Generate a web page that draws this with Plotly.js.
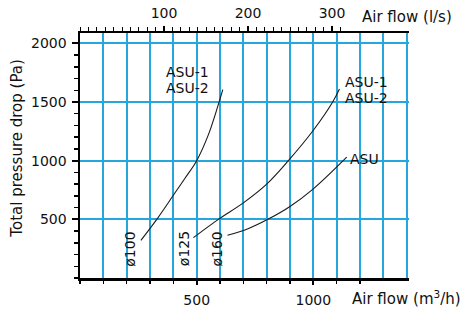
<!DOCTYPE html>
<html>
<head>
<meta charset="utf-8">
<script src="https://cdn.plot.ly/plotly-3.0.1.min.js"></script>
<style>html,body{margin:0;padding:0;background:#fff;}#chart{width:462px;height:309px;}</style>
</head>
<body>
<div id="chart"></div>
<script>
// Air flow (m3/h) and total pressure drop (Pa)
const flow100 = [261, 329, 400, 450, 500, 550, 590, 612];
const dp100   = [321, 500, 705, 850, 1000, 1220, 1460, 1605];
const flow125 = [486, 593, 700, 800, 893, 1000, 1083, 1112];
const dp125   = [344, 500, 640, 800, 1000, 1259, 1500, 1610];
const flow160 = [632, 720, 805, 900, 1000, 1143];
const dp160   = [364, 420, 500, 610, 760, 1030];

const ductLabels = ['ø100', 'ø125', 'ø160'];
const unitLabels = ['ASU-1', 'ASU-2', 'ASU'];

const bottomTickVals = [0,100,200,300,400,500,600,700,800,900,1000,1100,1200];
const bottomLabelVals = [500, 1000];
const topLabelVals = [100, 200, 300];
const topMinorVals = [0,10,20,30,40,50,60,70,80,90,100,110,120,130,140,150,160,170,180,190,200,210,220,230,240,250,260,270,280,290,300,310];
const yLabelVals = [500, 1000, 1500, 2000];

const M3H_PER_LS = 3.6;
const X_MAX = 1410;
const Y_MAX = 2088;

const FONT = 'DejaVu Sans, sans-serif';
const GRID = '#25a7de';
const curve = {color: '#1a1a1a', width: 1.1, shape: 'spline', smoothing: 1};

const data = [
  {x: flow100, y: dp100, mode: 'lines', line: curve, hoverinfo: 'skip', showlegend: false},
  {x: flow125, y: dp125, mode: 'lines', line: curve, hoverinfo: 'skip', showlegend: false},
  {x: flow160, y: dp160, mode: 'lines', line: curve, hoverinfo: 'skip', showlegend: false},
  {x: [], y: [], xaxis: 'x2', yaxis: 'y', showlegend: false},
  {x: [], y: [], xaxis: 'x3', yaxis: 'y', showlegend: false}
];

const tickFont = {family: FONT, size: 14, color: '#111'};

const layout = {
  width: 462, height: 309,
  margin: {l: 80, r: 53, t: 33, b: 31, pad: 0},
  paper_bgcolor: '#fff', plot_bgcolor: '#fff',
  font: {family: FONT, size: 14, color: '#111'},
  showlegend: false,
  xaxis: {
    range: [0, X_MAX], tickmode: 'linear', tick0: 0, dtick: 100,
    showgrid: true, gridcolor: GRID, gridwidth: 1.8,
    showticklabels: false, ticks: '', zeroline: false,
    showline: true, linecolor: '#000', linewidth: 2.5, mirror: false
  },
  xaxis3: {
    overlaying: 'x', anchor: 'y', side: 'bottom', range: [0, X_MAX],
    tickmode: 'array', tickvals: bottomLabelVals, ticktext: bottomLabelVals.map(String),
    ticks: 'outside', ticklen: 6, tickwidth: 2, tickcolor: '#000',
    minor: {tickmode: 'array', tickvals: bottomTickVals, ticks: 'outside', ticklen: 5, tickwidth: 1.5, tickcolor: '#000', showgrid: false},
    showgrid: false, zeroline: false, showline: false,
    tickfont: tickFont, ticklabelstandoff: 3
  },
  xaxis2: {
    overlaying: 'x', anchor: 'y', side: 'top', range: [0, X_MAX / M3H_PER_LS],
    tickmode: 'array', tickvals: topLabelVals, ticktext: topLabelVals.map(String),
    ticks: 'outside', ticklen: 5, tickwidth: 2, tickcolor: '#000',
    minor: {tickmode: 'array', tickvals: topMinorVals, ticks: 'outside', ticklen: 4, tickwidth: 1, tickcolor: '#000', showgrid: false},
    showgrid: false, zeroline: false,
    showline: true, linecolor: '#000', linewidth: 2.5,
    tickfont: tickFont, ticklabelstandoff: 2
  },
  yaxis: {
    range: [0, Y_MAX], tickmode: 'array', tickvals: yLabelVals, ticktext: yLabelVals.map(String),
    ticks: 'outside', ticklen: 6, tickwidth: 2, tickcolor: '#000',
    minor: {tickmode: 'linear', tick0: 0, dtick: 100, ticks: 'outside', ticklen: 4, tickwidth: 1.5, tickcolor: '#000', showgrid: false},
    showgrid: true, gridcolor: GRID, gridwidth: 1.8, zeroline: false,
    showline: true, linecolor: '#000', linewidth: 2.5,
    tickfont: tickFont, ticklabelstandoff: 2
  },
  annotations: [
    {text: 'Total pressure drop (Pa)', textangle: -90, xref: 'paper', yref: 'paper', x: -0.19, y: 0.53,
     xanchor: 'center', yanchor: 'middle', showarrow: false, font: {family: FONT, size: 15, color: '#111'}},
    {text: 'Air flow (l/s)', xref: 'paper', yref: 'paper', x: 0.852, y: 1.065,
     xanchor: 'left', yanchor: 'middle', showarrow: false, font: {family: FONT, size: 15, color: '#111'}},
    {text: 'Air flow (m<sup>3</sup>/h)', xref: 'paper', yref: 'paper', x: 0.822, y: -0.08,
     xanchor: 'left', yanchor: 'middle', showarrow: false, font: {family: FONT, size: 15, color: '#111'}},

    {text: ductLabels[0], textangle: -90, x: 214, y: 249, xanchor: 'center', yanchor: 'middle', showarrow: false, font: tickFont},
    {text: ductLabels[1], textangle: -90, x: 443, y: 249, xanchor: 'center', yanchor: 'middle', showarrow: false, font: tickFont},
    {text: ductLabels[2], textangle: -90, x: 586, y: 249, xanchor: 'center', yanchor: 'middle', showarrow: false, font: tickFont},

    {text: unitLabels[0], x: 362, y: 1753, xanchor: 'left', yanchor: 'middle', showarrow: false, font: tickFont},
    {text: unitLabels[1], x: 362, y: 1621, xanchor: 'left', yanchor: 'middle', showarrow: false, font: tickFont},
    {text: unitLabels[0], x: 1125, y: 1668, xanchor: 'left', yanchor: 'middle', showarrow: false, font: tickFont},
    {text: unitLabels[1], x: 1125, y: 1535, xanchor: 'left', yanchor: 'middle', showarrow: false, font: tickFont},
    {text: unitLabels[2], x: 1150, y: 1012, xanchor: 'left', yanchor: 'middle', showarrow: false, font: tickFont}
  ]
};

Plotly.newPlot('chart', data, layout, {staticPlot: true, displayModeBar: false});
</script>
</body>
</html>
